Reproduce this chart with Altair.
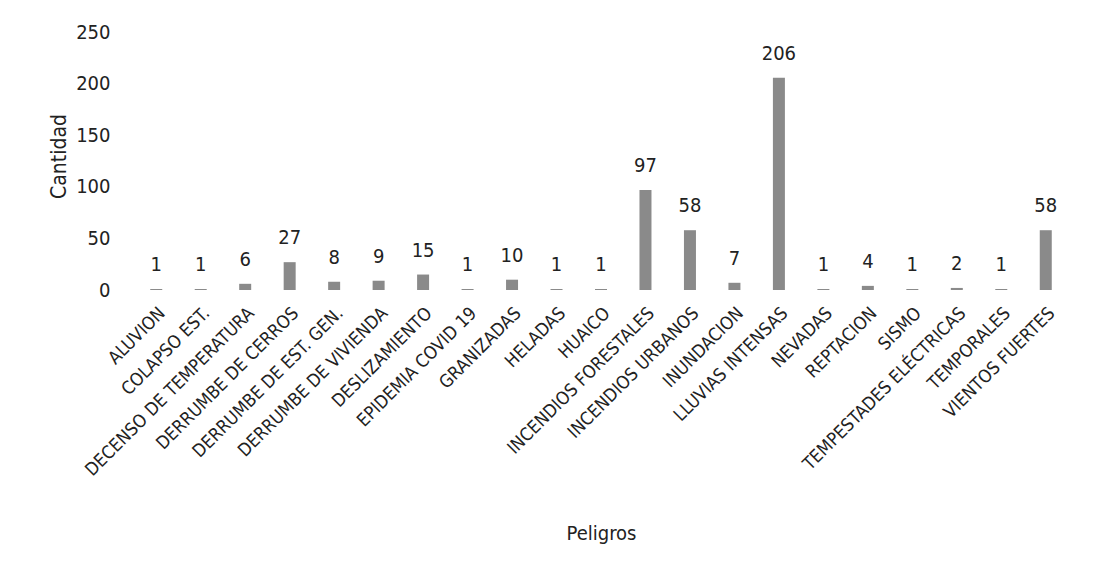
import altair as alt
import pandas as pd

categories = ["ALUVION", "COLAPSO EST.", "DECENSO DE TEMPERATURA", "DERRUMBE DE CERROS",
              "DERRUMBE DE EST. GEN.", "DERRUMBE DE VIVIENDA", "DESLIZAMIENTO",
              "EPIDEMIA COVID 19", "GRANIZADAS", "HELADAS", "HUAICO",
              "INCENDIOS FORESTALES", "INCENDIOS URBANOS", "INUNDACION",
              "LLUVIAS INTENSAS", "NEVADAS", "REPTACION", "SISMO",
              "TEMPESTADES ELÉCTRICAS", "TEMPORALES", "VIENTOS FUERTES"]
values = [1, 1, 6, 27, 8, 9, 15, 1, 10, 1, 1, 97, 58, 7, 206, 1, 4, 1, 2, 1, 58]
y_ticks = [0, 50, 100, 150, 200, 250]

df = pd.DataFrame({"Peligros": categories, "Cantidad": values})

FONT = "'DejaVu Sans Condensed', 'Liberation Sans Narrow', 'Liberation Sans', sans-serif"

x = alt.X("Peligros:N", sort=categories,
          scale=alt.Scale(paddingInner=0.0, paddingOuter=0.0),
          axis=alt.Axis(title="Peligros", labelAngle=-45, labelFontSize=18,
                        labelFont=FONT, titleFont=FONT, titleFontSize=20,
                        titleFontWeight="normal", labelColor="#222", titleColor="#222",
                        domain=False, ticks=False, labelPadding=14, titlePadding=44,
                        labelLimit=400, grid=False))
y = alt.Y("Cantidad:Q", scale=alt.Scale(domain=[0, 250]),
          axis=alt.Axis(title="Cantidad", values=y_ticks, labelFontSize=20,
                        labelFont=FONT, titleFont=FONT, titleFontSize=21,
                        titleFontWeight="normal", labelColor="#222", titleColor="#222",
                        domain=False, ticks=False, grid=False, labelPadding=24,
                        titlePadding=6))

bars = alt.Chart(df).mark_bar(size=12, color="#8a8a8a").encode(x=x, y=y)
labels = alt.Chart(df).mark_text(baseline="bottom", dy=-14, fontSize=20, font=FONT,
                                 color="#222").encode(
    x=alt.X("Peligros:N", sort=categories), y="Cantidad:Q", text="Cantidad:Q")

chart = (bars + labels).properties(
    width=934, height=268,
    padding={"top": 14, "left": 40, "right": 5, "bottom": 0}
).configure(background="white", view=alt.ViewConfig(stroke=None))

chart.save("out.html", embed_options={"renderer": "svg", "actions": False})
